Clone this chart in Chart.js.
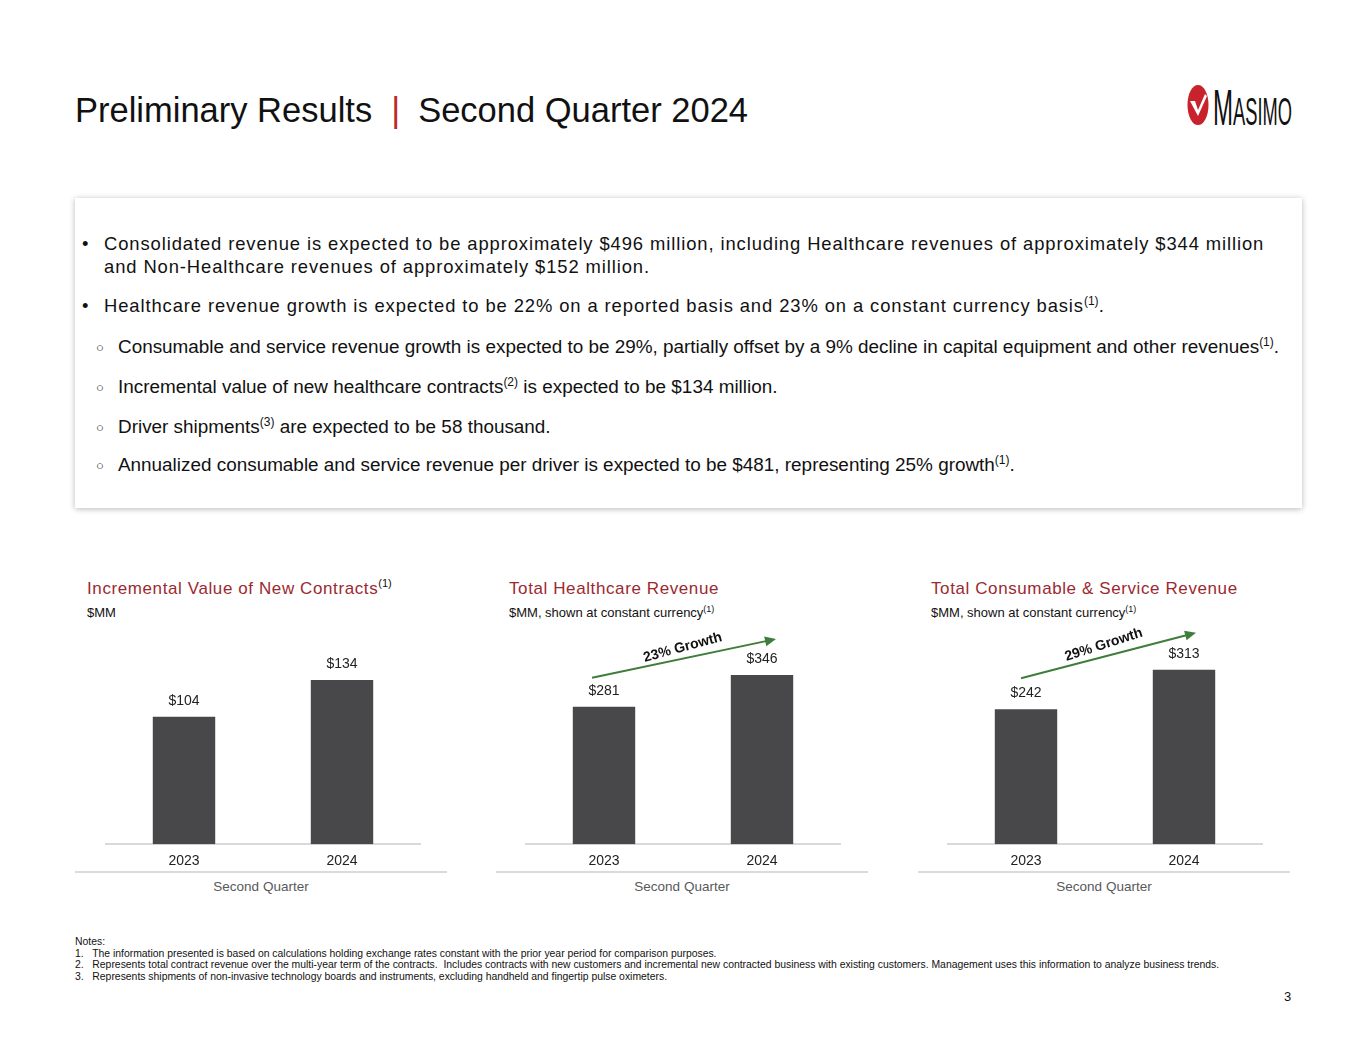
<!DOCTYPE html>
<html>
<head>
<meta charset="utf-8">
<script src="https://cdn.jsdelivr.net/npm/chart.js@4.4.1/dist/chart.umd.min.js"></script>
<style>
  body { margin:0; width:1365px; height:1055px; background:#fff; position:relative; overflow:hidden;
         font-family:"Liberation Sans", Arial, sans-serif; color:#111; }
  .abs { position:absolute; white-space:nowrap; }
  .title { left:75px; top:90px; font-size:34.5px; line-height:40px; color:#111; }
  .title .bar { color:#c0272d; padding:0 18px 0 19px; }
  .box { position:absolute; left:75px; top:198px; width:1227px; height:310px; background:#fff;
         box-shadow:0 1px 6px rgba(0,0,0,0.28); }
  .ln { position:absolute; height:24px; line-height:24px; white-space:nowrap; }
  .main { font-size:18.4px; letter-spacing:0.9px; }
  .sub { font-size:18.9px; }
  .dot { font-size:13px; }
  sup { font-size:12px; line-height:0; vertical-align:7px; letter-spacing:0; }
  .ctitle { font-size:17px; letter-spacing:0.6px; color:#9b2a30; }
  .ctitle sup { color:#111; font-size:11px; }
  .csub { font-size:13px; color:#111; }
  .csub sup { font-size:9px; vertical-align:5px; }
  .qline { position:absolute; top:871px; height:2px; background:#dadada; }
  .qtxt { position:absolute; top:879px; font-size:13.5px; color:#595959; text-align:center; }
  canvas { position:absolute; }
  .notes { left:75px; top:936px; font-size:10.4px; line-height:11.7px; color:#111; }
  #logo { left:1213px; top:86px; font-family:"Liberation Sans Narrow", "Liberation Sans", Arial;
          font-size:38px; line-height:44px; transform-origin:0 0; }
  #logo b { font-weight:normal; font-size:50px; }
</style>
</head>
<body>

<div class="abs title">Preliminary Results<span class="bar">|</span>Second Quarter 2024</div>

<svg class="abs" style="left:1186px;top:83px" width="24" height="44" viewBox="0 0 24 44">
  <ellipse cx="12" cy="22" rx="10.5" ry="20" fill="#c8232c"/>
  <path d="M4 18 L9 18 L12 27 L19 11 L21 13 L12 33 Z" fill="#fff"/>
</svg>
<div class="abs" id="logo"><b>M</b>ASIMO</div>

<div class="box"></div>
<div class="ln main" style="left:82px;top:232px">•</div>
<div class="ln main" style="left:104px;top:232px">Consolidated revenue is expected to be approximately $496 million, including Healthcare revenues of approximately $344 million</div>
<div class="ln main" style="left:104px;top:255px">and Non-Healthcare revenues of approximately $152 million.</div>
<div class="ln main" style="left:82px;top:294px">•</div>
<div class="ln main" style="left:104px;top:294px">Healthcare revenue growth is expected to be 22% on a reported basis and 23% on a constant currency basis<sup>(1)</sup>.</div>
<div class="ln dot" style="left:96px;top:336px">○</div>
<div class="ln sub" style="left:118px;top:335px">Consumable and service revenue growth is expected to be 29%, partially offset by a 9% decline in capital equipment and other revenues<sup>(1)</sup>.</div>
<div class="ln dot" style="left:96px;top:376px">○</div>
<div class="ln sub" style="left:118px;top:375px">Incremental value of new healthcare contracts<sup>(2)</sup> is expected to be $134 million.</div>
<div class="ln dot" style="left:96px;top:416px">○</div>
<div class="ln sub" style="left:118px;top:415px">Driver shipments<sup>(3)</sup> are expected to be 58 thousand.</div>
<div class="ln dot" style="left:96px;top:454px">○</div>
<div class="ln sub" style="left:118px;top:453px">Annualized consumable and service revenue per driver is expected to be $481, representing 25% growth<sup>(1)</sup>.</div>

<div class="abs ctitle" style="left:87px;top:579px">Incremental Value of New Contracts<sup>(1)</sup></div>
<div class="abs csub" style="left:87px;top:605px">$MM</div>
<div class="abs ctitle" style="left:509px;top:579px">Total Healthcare Revenue</div>
<div class="abs csub" style="left:509px;top:605px">$MM, shown at constant currency<sup>(1)</sup></div>
<div class="abs ctitle" style="left:931px;top:579px">Total Consumable &amp; Service Revenue</div>
<div class="abs csub" style="left:931px;top:605px">$MM, shown at constant currency<sup>(1)</sup></div>

<canvas id="c1" style="left:105px;top:609px"></canvas>
<canvas id="c2" style="left:525px;top:609px"></canvas>
<canvas id="c3" style="left:947px;top:609px"></canvas>

<div class="qline" style="left:75px;width:372px"></div>
<div class="qline" style="left:496px;width:372px"></div>
<div class="qline" style="left:918px;width:372px"></div>
<div class="qtxt" style="left:75px;width:372px">Second Quarter</div>
<div class="qtxt" style="left:496px;width:372px">Second Quarter</div>
<div class="qtxt" style="left:918px;width:372px">Second Quarter</div>

<div class="abs notes">
  <div>Notes:</div>
  <div>1.&nbsp;&nbsp; The information presented is based on calculations holding exchange rates constant with the prior year period for comparison&nbsp;purposes.</div>
  <div>2.&nbsp;&nbsp; Represents total contract revenue over the multi-year term of the contracts.&nbsp; Includes contracts with new customers and incremental new contracted business with existing customers. Management uses this information to analyze business trends.</div>
  <div>3.&nbsp;&nbsp; Represents shipments of non-invasive technology boards and instruments, excluding handheld and fingertip pulse oximeters.</div>
</div>
<div class="abs" style="left:1284px;top:989px;font-size:13px">3</div>

<script>
// data
const years = ['2023', '2024'];
const contractValues = [104, 134];
const healthcareRevenue = [281, 346];
const consumableRevenue = [242, 313];
const growthLabels = ['23% Growth', '29% Growth'];

// squeeze the wordmark into its 79px slot
const logo = document.getElementById('logo');
logo.style.transform = 'scaleX(' + (79 / logo.offsetWidth) + ')';

// bar value labels + optional growth arrow
const annotate = {
  id: 'annotate',
  afterDatasetsDraw(chart, args, opts) {
    const ctx = chart.ctx;
    const vals = chart.data.datasets[0].data;
    ctx.save();
    ctx.font = '14px "Liberation Sans", Arial';
    ctx.fillStyle = '#222';
    ctx.textAlign = 'center';
    ctx.textBaseline = 'middle';
    chart.getDatasetMeta(0).data.forEach((bar, i) => {
      ctx.fillText('$' + vals[i], bar.x, bar.y - 16);
    });
    if (opts.growth) {
      const xs = chart.scales.x, ys = chart.scales.y;
      const x0 = xs.getPixelForValue(0) + opts.dx0, y0 = ys.getPixelForValue(vals[0]) + opts.dy0;
      const x1 = xs.getPixelForValue(1) + opts.dx1, y1 = ys.getPixelForValue(vals[1]) + opts.dy1;
      const a = Math.atan2(y1 - y0, x1 - x0);
      ctx.strokeStyle = '#3f7d3b';
      ctx.fillStyle = '#3f7d3b';
      ctx.lineWidth = 2;
      ctx.beginPath();
      ctx.moveTo(x0, y0);
      ctx.lineTo(x1 - 9 * Math.cos(a), y1 - 9 * Math.sin(a));
      ctx.stroke();
      ctx.beginPath();
      ctx.moveTo(x1, y1);
      ctx.lineTo(x1 - 11 * Math.cos(a) + 5 * Math.sin(a), y1 - 11 * Math.sin(a) - 5 * Math.cos(a));
      ctx.lineTo(x1 - 11 * Math.cos(a) - 5 * Math.sin(a), y1 - 11 * Math.sin(a) + 5 * Math.cos(a));
      ctx.closePath();
      ctx.fill();
      const mx = (x0 + x1) / 2 + opts.tdx, my = (y0 + y1) / 2;
      ctx.translate(mx + 11 * Math.sin(a), my - 11 * Math.cos(a));
      ctx.rotate(a - 3.2 * Math.PI / 180);
      ctx.fillStyle = '#111';
      ctx.font = 'bold 14px "Liberation Sans", Arial';
      ctx.fillText(opts.growth, 0, 0);
    }
    ctx.restore();
  }
};

function makeChart(id, values, yMax, growth) {
  const el = document.getElementById(id);
  el.width = 316; el.height = 270;
  el.style.width = '316px'; el.style.height = '270px';
  return new Chart(el, {
    type: 'bar',
    data: {
      labels: years,
      datasets: [{ data: values, backgroundColor: '#48484a', barPercentage: 0.395, categoryPercentage: 1 }]
    },
    options: {
      responsive: false,
      animation: false,
      layout: { padding: 0 },
      plugins: { legend: { display: false }, tooltip: { enabled: false }, annotate: growth || {} },
      scales: {
        x: {
          grid: { display: false, drawTicks: false },
          border: { display: true, color: '#d9d9d9', width: 2 },
          ticks: { color: '#222', font: { family: '"Liberation Sans", Arial', size: 14 }, padding: 9 }
        },
        y: { display: false, min: 0, max: yMax }
      }
    },
    plugins: [annotate]
  });
}

makeChart('c1', contractValues, 192);
makeChart('c2', healthcareRevenue, 481, { growth: growthLabels[0], dx0: -12, dy0: -29, dx1: 14, dy1: -36, tdx: 1 });
makeChart('c3', consumableRevenue, 422, { growth: growthLabels[1], dx0: -5, dy0: -31, dx1: 12, dy1: -37, tdx: -2 });
</script>
</body>
</html>
